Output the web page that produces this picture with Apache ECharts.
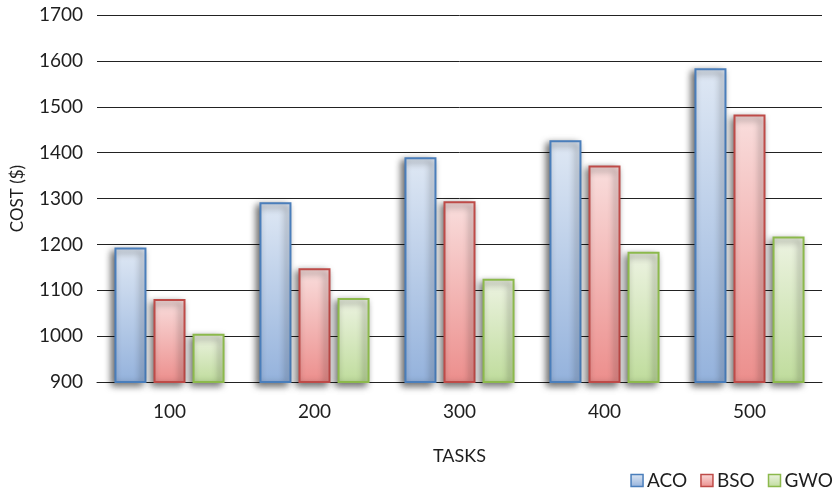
<!DOCTYPE html>
<html>
<head>
<meta charset="utf-8">
<script src="https://cdn.jsdelivr.net/npm/echarts@6/dist/echarts.min.js"></script>
<style>
  html, body { margin: 0; padding: 0; background: #fff; }
  #chart { width: 840px; height: 489px; }
</style>
</head>
<body>
<div id="chart"></div>
<script>
// Task counts on the category axis
const tasks = ['100', '200', '300', '400', '500'];

// Cost ($) per algorithm
const aco = [1193, 1292, 1390, 1427, 1584];
const bso = [1081, 1148, 1294, 1372, 1483];
const gwo = [1005, 1083, 1125, 1184, 1217];

const seriesNames = ['ACO', 'BSO', 'GWO'];
const seriesData = [aco, bso, gwo];

// Fill gradients (top -> bottom) and borders for each algorithm
const palette = [
  { top: '#dfe8f4', bottom: '#94b2dc', border: '#4a7ebb' },
  { top: '#f9dedd', bottom: '#ec8e8c', border: '#be4b48' },
  { top: '#edf3e2', bottom: '#bfdc9c', border: '#8cb94c' }
];

const FONT = 'Lato';
const TEXT = '#1e1e1e';

const chart = echarts.init(document.getElementById('chart'), null, { renderer: 'canvas' });

const fillFor = (i) => new echarts.graphic.LinearGradient(0, 0, 0, 1, [
  { offset: 0, color: palette[i].top },
  { offset: 1, color: palette[i].bottom }
]);

const series = seriesNames.map((name, i) => ({
  name: name,
  type: 'bar',
  data: seriesData[i],
  barWidth: 32,
  barGap: '22%',
  itemStyle: {
    color: fillFor(i),
    borderColor: palette[i].border,
    borderWidth: 2,
    shadowColor: 'rgba(0,0,0,0.6)',
    shadowBlur: 7,
    shadowOffsetX: -3,
    shadowOffsetY: 3
  },
  emphasis: { disabled: true }
}));

chart.setOption({
  animation: false,
  backgroundColor: '#fff',
  grid: { left: 97, right: 18, top: 15, bottom: 107, containLabel: false },
  legend: {
    data: seriesNames.map((n, i) => ({
      name: n,
      itemStyle: { color: fillFor(i), borderColor: palette[i].border, borderWidth: 1.5 }
    })),
    right: 2,
    top: 466,
    itemWidth: 12,
    itemHeight: 12,
    itemGap: 13,
    icon: 'rect',
    textStyle: { fontFamily: FONT, fontSize: 19, color: TEXT, padding: [0, 0, 0, -1] }
  },
  xAxis: {
    type: 'category',
    data: tasks,
    name: 'TASKS',
    nameLocation: 'middle',
    nameGap: 65,
    nameTextStyle: { fontFamily: FONT, fontSize: 18, color: TEXT },
    axisLine: { show: true, lineStyle: { color: '#222', width: 1 } },
    axisTick: { show: false },
    axisLabel: { fontFamily: FONT, fontSize: 19, color: TEXT, margin: 20 }
  },
  yAxis: {
    type: 'value',
    min: 900,
    max: 1700,
    interval: 100,
    name: 'COST ($)',
    nameLocation: 'middle',
    nameGap: 71,
    nameRotate: 90,
    nameTextStyle: { fontFamily: FONT, fontSize: 17, color: TEXT },
    axisLine: { show: false },
    axisTick: { show: false },
    splitLine: { show: true, lineStyle: { color: '#222', width: 1 } },
    axisLabel: {
      fontFamily: FONT, fontSize: 19, color: TEXT, margin: 14,
      formatter: (v) => String(v)
    }
  },
  series: series
});
</script>
</body>
</html>
